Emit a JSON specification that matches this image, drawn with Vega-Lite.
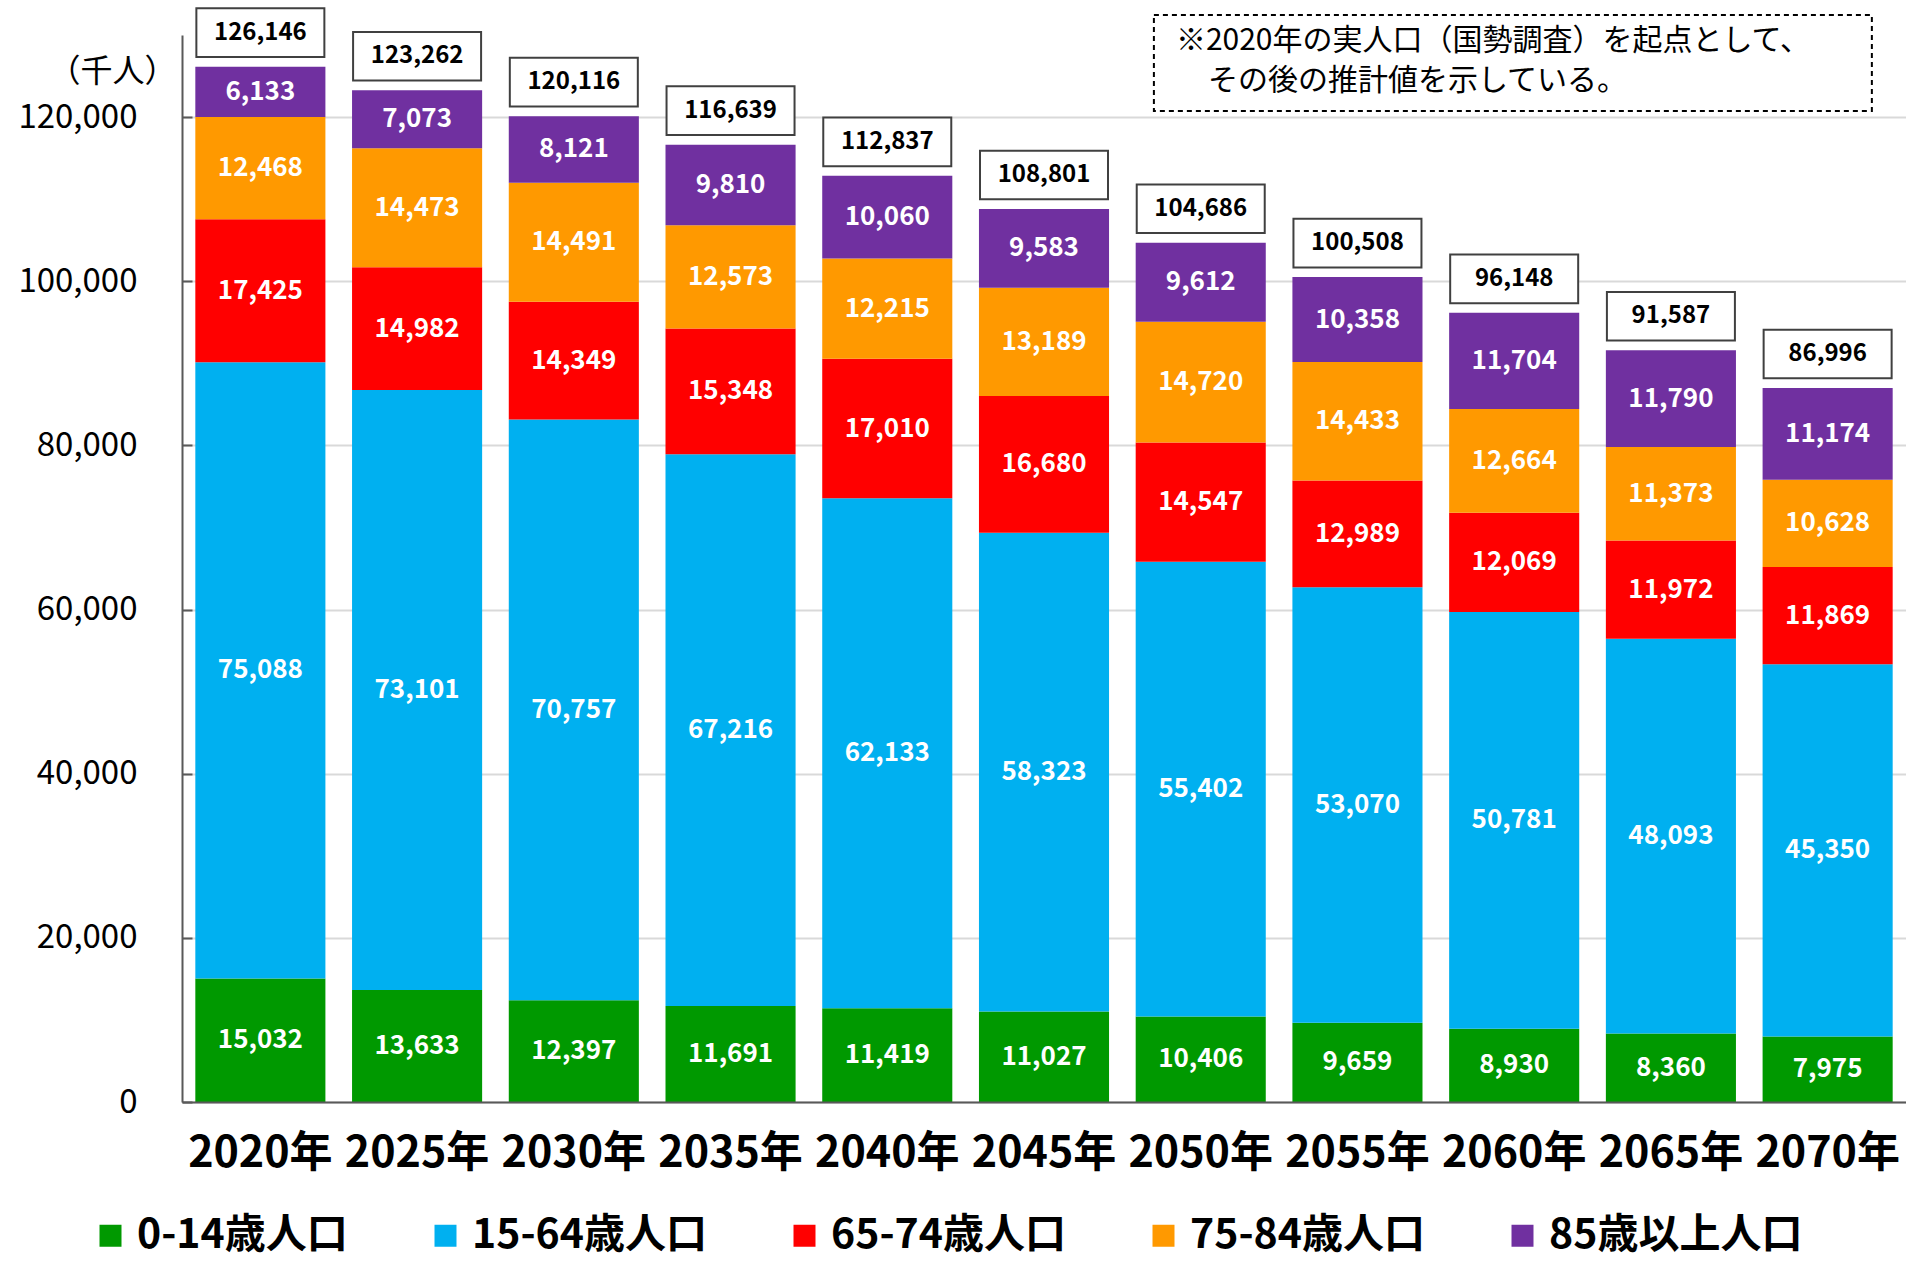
{
  "$schema": "https://vega.github.io/schema/vega-lite/v6.json",
  "width": 1724,
  "height": 1067,
  "autosize": {"type": "none"},
  "padding": {"left": 182, "top": 35, "right": 0, "bottom": 159},
  "background": "white",
  "config": {"view": {"stroke": null}, "font": "Noto Sans CJK JP"},
  "datasets": {
    "pop": [
      {"year": "2020年", "group": "0-14歳人口", "ord": 1, "value": 15032},
      {"year": "2020年", "group": "15-64歳人口", "ord": 2, "value": 75088},
      {"year": "2020年", "group": "65-74歳人口", "ord": 3, "value": 17425},
      {"year": "2020年", "group": "75-84歳人口", "ord": 4, "value": 12468},
      {"year": "2020年", "group": "85歳以上人口", "ord": 5, "value": 6133},
      {"year": "2025年", "group": "0-14歳人口", "ord": 1, "value": 13633},
      {"year": "2025年", "group": "15-64歳人口", "ord": 2, "value": 73101},
      {"year": "2025年", "group": "65-74歳人口", "ord": 3, "value": 14982},
      {"year": "2025年", "group": "75-84歳人口", "ord": 4, "value": 14473},
      {"year": "2025年", "group": "85歳以上人口", "ord": 5, "value": 7073},
      {"year": "2030年", "group": "0-14歳人口", "ord": 1, "value": 12397},
      {"year": "2030年", "group": "15-64歳人口", "ord": 2, "value": 70757},
      {"year": "2030年", "group": "65-74歳人口", "ord": 3, "value": 14349},
      {"year": "2030年", "group": "75-84歳人口", "ord": 4, "value": 14491},
      {"year": "2030年", "group": "85歳以上人口", "ord": 5, "value": 8121},
      {"year": "2035年", "group": "0-14歳人口", "ord": 1, "value": 11691},
      {"year": "2035年", "group": "15-64歳人口", "ord": 2, "value": 67216},
      {"year": "2035年", "group": "65-74歳人口", "ord": 3, "value": 15348},
      {"year": "2035年", "group": "75-84歳人口", "ord": 4, "value": 12573},
      {"year": "2035年", "group": "85歳以上人口", "ord": 5, "value": 9810},
      {"year": "2040年", "group": "0-14歳人口", "ord": 1, "value": 11419},
      {"year": "2040年", "group": "15-64歳人口", "ord": 2, "value": 62133},
      {"year": "2040年", "group": "65-74歳人口", "ord": 3, "value": 17010},
      {"year": "2040年", "group": "75-84歳人口", "ord": 4, "value": 12215},
      {"year": "2040年", "group": "85歳以上人口", "ord": 5, "value": 10060},
      {"year": "2045年", "group": "0-14歳人口", "ord": 1, "value": 11027},
      {"year": "2045年", "group": "15-64歳人口", "ord": 2, "value": 58323},
      {"year": "2045年", "group": "65-74歳人口", "ord": 3, "value": 16680},
      {"year": "2045年", "group": "75-84歳人口", "ord": 4, "value": 13189},
      {"year": "2045年", "group": "85歳以上人口", "ord": 5, "value": 9583},
      {"year": "2050年", "group": "0-14歳人口", "ord": 1, "value": 10406},
      {"year": "2050年", "group": "15-64歳人口", "ord": 2, "value": 55402},
      {"year": "2050年", "group": "65-74歳人口", "ord": 3, "value": 14547},
      {"year": "2050年", "group": "75-84歳人口", "ord": 4, "value": 14720},
      {"year": "2050年", "group": "85歳以上人口", "ord": 5, "value": 9612},
      {"year": "2055年", "group": "0-14歳人口", "ord": 1, "value": 9659},
      {"year": "2055年", "group": "15-64歳人口", "ord": 2, "value": 53070},
      {"year": "2055年", "group": "65-74歳人口", "ord": 3, "value": 12989},
      {"year": "2055年", "group": "75-84歳人口", "ord": 4, "value": 14433},
      {"year": "2055年", "group": "85歳以上人口", "ord": 5, "value": 10358},
      {"year": "2060年", "group": "0-14歳人口", "ord": 1, "value": 8930},
      {"year": "2060年", "group": "15-64歳人口", "ord": 2, "value": 50781},
      {"year": "2060年", "group": "65-74歳人口", "ord": 3, "value": 12069},
      {"year": "2060年", "group": "75-84歳人口", "ord": 4, "value": 12664},
      {"year": "2060年", "group": "85歳以上人口", "ord": 5, "value": 11704},
      {"year": "2065年", "group": "0-14歳人口", "ord": 1, "value": 8360},
      {"year": "2065年", "group": "15-64歳人口", "ord": 2, "value": 48093},
      {"year": "2065年", "group": "65-74歳人口", "ord": 3, "value": 11972},
      {"year": "2065年", "group": "75-84歳人口", "ord": 4, "value": 11373},
      {"year": "2065年", "group": "85歳以上人口", "ord": 5, "value": 11790},
      {"year": "2070年", "group": "0-14歳人口", "ord": 1, "value": 7975},
      {"year": "2070年", "group": "15-64歳人口", "ord": 2, "value": 45350},
      {"year": "2070年", "group": "65-74歳人口", "ord": 3, "value": 11869},
      {"year": "2070年", "group": "75-84歳人口", "ord": 4, "value": 10628},
      {"year": "2070年", "group": "85歳以上人口", "ord": 5, "value": 11174}
    ],
    "tot": [
      {"year": "2020年", "total": 126146},
      {"year": "2025年", "total": 123262},
      {"year": "2030年", "total": 120116},
      {"year": "2035年", "total": 116639},
      {"year": "2040年", "total": 112837},
      {"year": "2045年", "total": 108801},
      {"year": "2050年", "total": 104686},
      {"year": "2055年", "total": 100508},
      {"year": "2060年", "total": 96148},
      {"year": "2065年", "total": 91587},
      {"year": "2070年", "total": 86996}
    ]
  },
  "layer": [
    {
      "data": {"name": "pop"},
      "mark": {"type": "bar"},
      "encoding": {
        "x": {
          "field": "year", "type": "nominal", "sort": null,
          "scale": {"paddingInner": 0.17, "paddingOuter": 0.085},
          "axis": {
            "title": null, "labelAngle": 0, "labelFontSize": 43, "labelFontWeight": "bold",
            "labelColor": "black", "ticks": false, "domainColor": "#595959", "domainWidth": 2,
            "labelPadding": 30, "grid": false, "zindex": 1
          }
        },
        "y": {
          "field": "value", "type": "quantitative", "stack": "zero",
          "scale": {"domain": [0, 130000], "nice": false},
          "axis": {
            "title": "（千人）", "titleAngle": 0, "titleX": -70, "titleY": 36,
            "titleAlign": "center", "titleBaseline": "middle", "titleFontSize": 32,
            "titleFontWeight": "normal", "titleColor": "black",
            "values": [0, 20000, 40000, 60000, 80000, 100000, 120000],
            "format": ",d", "labelFontSize": 33, "labelColor": "black",
            "tickSize": -10, "tickColor": "#595959", "tickWidth": 2, "labelPadding": 55,
            "domainColor": "#595959", "domainWidth": 2,
            "gridColor": "#d9d9d9", "gridWidth": 2
          }
        },
        "color": {
          "field": "group", "type": "nominal",
          "scale": {
            "domain": ["0-14歳人口", "15-64歳人口", "65-74歳人口", "75-84歳人口", "85歳以上人口"],
            "range": ["#009900", "#00B0F0", "#FF0000", "#FF9900", "#7030A0"]
          },
          "legend": {
            "title": null, "orient": "none", "legendX": -92, "legendY": 1180,
            "direction": "horizontal", "symbolType": "square", "symbolSize": 484,
            "symbolStrokeWidth": 0, "labelFontSize": 41, "labelFontWeight": "bold",
            "labelColor": "black", "labelOffset": 6, "columnPadding": 77, "labelLimit": 400
          }
        },
        "order": {"field": "ord", "type": "quantitative"}
      }
    },
    {
      "data": {"name": "pop"},
      "transform": [
        {"stack": "value", "groupby": ["year"], "sort": [{"field": "ord", "order": "ascending"}], "as": ["v0", "v1"]},
        {"calculate": "(datum.v0 + datum.v1) / 2", "as": "mid"}
      ],
      "mark": {"type": "text", "color": "white", "fontSize": 26, "fontWeight": "bold", "baseline": "middle"},
      "encoding": {
        "x": {"field": "year", "type": "nominal", "sort": null},
        "y": {"field": "mid", "type": "quantitative"},
        "text": {"field": "value", "type": "quantitative", "format": ","}
      }
    },
    {
      "data": {"name": "tot"},
      "mark": {
        "type": "point", "shape": "M-1,-0.38L1,-0.38L1,0.38L-1,0.38Z", "size": 16384,
        "filled": true, "fill": "white", "stroke": "#404040", "strokeWidth": 2, "opacity": 1, "yOffset": -34
      },
      "encoding": {
        "x": {"field": "year", "type": "nominal", "sort": null},
        "y": {"field": "total", "type": "quantitative"}
      }
    },
    {
      "data": {"name": "tot"},
      "mark": {"type": "text", "color": "black", "fontSize": 24, "fontWeight": "bold", "baseline": "middle", "dy": -34},
      "encoding": {
        "x": {"field": "year", "type": "nominal", "sort": null},
        "y": {"field": "total", "type": "quantitative"},
        "text": {"field": "total", "type": "quantitative", "format": ","}
      }
    },
    {
      "data": {"values": [{}]},
      "mark": {"type": "rect", "fill": "white", "stroke": "black", "strokeDash": [5, 4], "strokeWidth": 2},
      "encoding": {
        "x": {"datum": "2050年", "bandPosition": 0.14},
        "x2": {"datum": "2070年", "bandPosition": 0.84},
        "y": {"datum": 132440},
        "y2": {"datum": 120740}
      }
    },
    {
      "data": {"values": [{}]},
      "mark": {
        "type": "text", "align": "left", "baseline": "middle", "fontSize": 30,
        "dx": 22, "color": "black",
        "text": "※2020年の実人口（国勢調査）を起点として、"
      },
      "encoding": {
        "x": {"datum": "2050年", "bandPosition": 0.14},
        "y": {"datum": 129250}
      }
    },
    {
      "data": {"values": [{}]},
      "mark": {
        "type": "text", "align": "left", "baseline": "middle", "fontSize": 30,
        "dx": 54, "color": "black",
        "text": "その後の推計値を示している。"
      },
      "encoding": {
        "x": {"datum": "2050年", "bandPosition": 0.14},
        "y": {"datum": 124420}
      }
    }
  ]
}
